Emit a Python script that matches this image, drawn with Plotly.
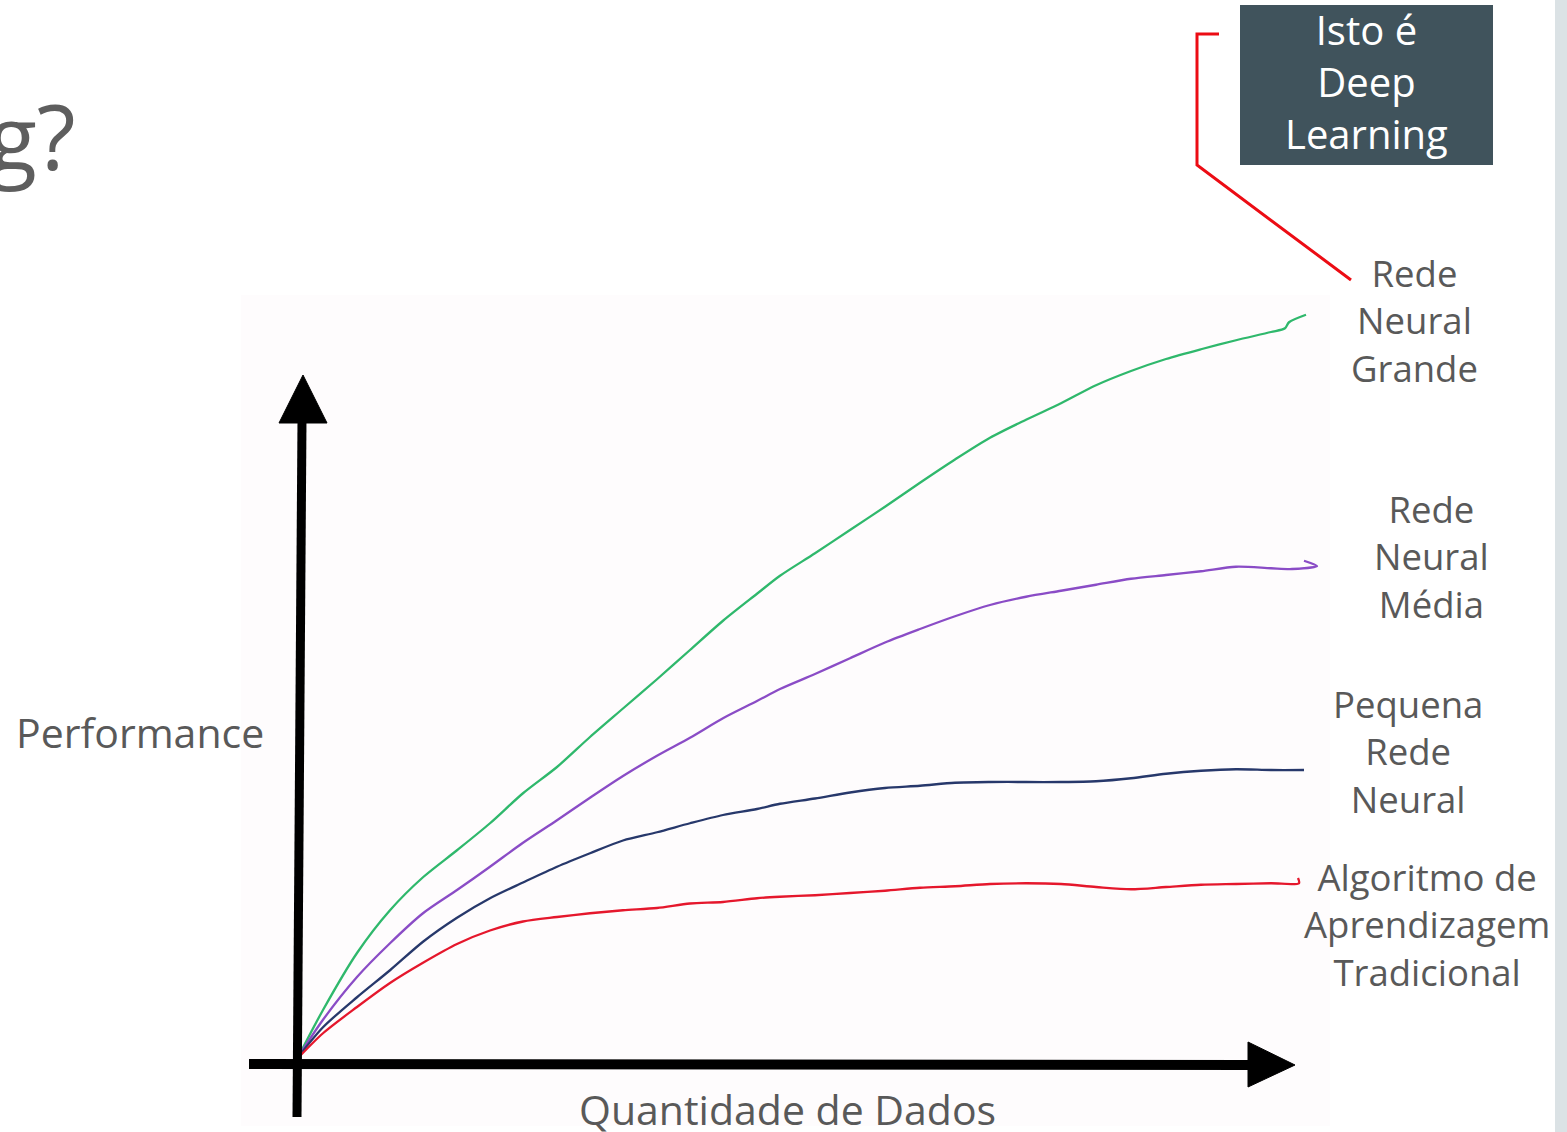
import plotly.graph_objects as go

W, H = 1567, 1132

# ---------------- data (Quantidade de Dados vs Performance) ----------------
x_grande = [0, 2.5, 5.9, 9.2, 12.5, 15.9, 19.2, 22.5, 25.9, 29.2, 32.5, 35.9, 39.2, 42.5, 45.9,
            48.2, 51.7, 55.2, 58.7, 62.2, 65.7, 69.2, 72.8, 76.3, 79.8, 83.3, 86.8, 90.3, 93.8,
            97.3, 98.7, 99.1, 100.8]
y_grande = [0.1, 6.4, 14.0, 19.7, 24.1, 27.7, 31.3, 35.3, 38.8, 42.8, 46.6, 50.5, 54.4, 58.3, 61.9,
            64.3, 67.3, 70.4, 73.5, 76.7, 79.8, 82.7, 85.1, 87.3, 89.7, 91.6, 93.2, 94.5, 95.7,
            96.8, 97.3, 98.1, 99.1]

x_media = [0, 2.5, 5.9, 9.2, 12.5, 15.9, 19.2, 22.5, 25.9, 29.2, 32.5, 35.9, 39.2, 42.5, 45.9,
           48.2, 51.7, 55.2, 58.7, 62.2, 65.7, 69.2, 72.8, 76.3, 79.8, 83.3, 86.8, 90.3, 93.8,
           97.3, 99.4, 101.9, 100.6]
y_media = [0.1, 5.1, 10.8, 15.3, 19.3, 22.4, 25.5, 28.7, 31.7, 34.7, 37.6, 40.3, 42.7, 45.3, 47.6,
           49.2, 51.2, 53.3, 55.4, 57.2, 58.9, 60.4, 61.5, 62.3, 63.1, 63.9, 64.4, 64.9, 65.5,
           65.3, 65.2, 65.6, 66.3]

x_pequena = [0, 2.5, 5.9, 9.2, 12.5, 15.9, 19.2, 22.5, 25.9, 29.2, 32.5, 35.9, 39.2, 42.5, 45.9,
             48.2, 51.7, 55.2, 58.7, 62.2, 65.7, 69.2, 72.8, 76.3, 79.8, 83.3, 86.8, 90.3, 93.8,
             97.3, 100.6]
y_pequena = [0.1, 4.1, 8.1, 11.7, 15.5, 18.7, 21.3, 23.4, 25.5, 27.3, 29.0, 30.1, 31.3, 32.4, 33.2,
             33.9, 34.6, 35.4, 36.0, 36.3, 36.7, 36.8, 36.8, 36.8, 36.9, 37.3, 37.9, 38.3, 38.5,
             38.4, 38.4]

x_tradicional = [0, 2.5, 5.9, 9.2, 12.5, 15.9, 19.2, 22.5, 25.9, 29.2, 32.5, 35.9, 39.2, 42.5, 45.9,
                 48.2, 51.7, 55.2, 58.7, 62.2, 65.7, 69.2, 72.8, 76.3, 79.8, 83.3, 86.8, 90.3, 93.8,
                 97.3, 100.1, 100.0]
y_tradicional = [0.0, 3.3, 6.8, 10.0, 12.7, 15.2, 17.0, 18.2, 18.8, 19.3, 19.7, 20.0, 20.6, 20.8, 21.3,
                 21.5, 21.7, 22.0, 22.3, 22.7, 22.9, 23.2, 23.3, 23.2, 22.8, 22.5, 22.8, 23.1, 23.2,
                 23.3, 23.3, 24.0]

series_names = ["Rede Neural Grande", "Rede Neural Média", "Pequena Rede Neural",
                "Algoritmo de Aprendizagem Tradicional"]
series_colors = ["#2fb86c", "#8a4cc6", "#27386b", "#e5172c"]

label_texts = ["Rede<br>Neural<br>Grande", "Rede<br>Neural<br>Média",
               "Pequena<br>Rede<br>Neural", "Algoritmo de<br>Aprendizagem<br>Tradicional"]
box_text = "Isto é<br>Deep<br>Learning"
x_title = "Quantidade de Dados"
y_title = "Performance"
slide_title = "g?"

# ---------------- helpers: pixel -> paper ----------------
def px(x):
    return x / W

def py(y):
    return 1 - y / H

# data axis placement (pixels): x=0 at 298, 10 px/unit ; y=0 at 1058, 7.5 px/unit
X0, XS = 298, 10.0
Y0, YS = 1058, 7.5
xr = [-2, 104]
yr = [-2, 104]
xdom = [px(X0 + xr[0] * XS), px(X0 + xr[1] * XS)]
ydom = [py(Y0 - yr[0] * YS), py(Y0 - yr[1] * YS)]

fig = go.Figure()
for xs, ys, name, col in zip([x_grande, x_media, x_pequena, x_tradicional],
                             [y_grande, y_media, y_pequena, y_tradicional],
                             series_names, series_colors):
    fig.add_trace(go.Scatter(x=xs, y=ys, mode="lines", name=name,
                             line=dict(color=col, width=2.3, shape="spline", smoothing=0.8),
                             showlegend=False, hoverinfo="skip"))

shapes = []
# chart image background
shapes.append(dict(type="rect", xref="paper", yref="paper", x0=px(241), x1=px(1330),
                   y0=py(1126), y1=py(295), fillcolor="#fefcfd", line=dict(width=0), layer="below"))
# right grey strip
shapes.append(dict(type="rect", xref="paper", yref="paper", x0=px(1555), x1=px(1567),
                   y0=py(1132), y1=py(0), fillcolor="#dbe2e5", line=dict(width=0), layer="below"))
# vertical axis arrow
shapes.append(dict(type="line", xref="paper", yref="paper", x0=px(297), y0=py(1117),
                   x1=px(302), y1=py(420), line=dict(color="black", width=9)))
shapes.append(dict(type="path", xref="paper", yref="paper",
                   path=f"M {px(279)} {py(423)} L {px(327)} {py(423)} L {px(303)} {py(375)} Z",
                   fillcolor="black", line=dict(color="black", width=1)))
# horizontal axis arrow
shapes.append(dict(type="line", xref="paper", yref="paper", x0=px(249), y0=py(1064),
                   x1=px(1250), y1=py(1065), line=dict(color="black", width=10)))
shapes.append(dict(type="path", xref="paper", yref="paper",
                   path=f"M {px(1248)} {py(1042)} L {px(1248)} {py(1087)} L {px(1295)} {py(1065)} Z",
                   fillcolor="black", line=dict(color="black", width=1)))
# dark box
shapes.append(dict(type="rect", xref="paper", yref="paper", x0=px(1240), x1=px(1493),
                   y0=py(165), y1=py(5), fillcolor="#40535c", line=dict(width=0)))
# red bracket
shapes.append(dict(type="path", xref="paper", yref="paper",
                   path=f"M {px(1219)} {py(34)} L {px(1197)} {py(34)} L {px(1197)} {py(165)} L {px(1351)} {py(280)}",
                   line=dict(color="#ec0c14", width=3)))

FONT = "Open Sans"
GREY = "#595959"
annotations = []
annotations.append(dict(text=slide_title, xref="paper", yref="paper", x=px(78), y=py(135),
                        xanchor="right", yanchor="middle", showarrow=False,
                        font=dict(family=FONT, size=90, color="#5e5e5e")))
annotations.append(dict(text=y_title, xref="paper", yref="paper", x=px(140), y=py(732),
                        xanchor="center", yanchor="middle", showarrow=False,
                        font=dict(family=FONT, size=41, color=GREY)))
annotations.append(dict(text=x_title, xref="paper", yref="paper", x=px(787), y=py(1109),
                        xanchor="center", yanchor="middle", showarrow=False,
                        font=dict(family=FONT, size=41, color=GREY)))
label_pos = [(1414, 320), (1431, 557), (1408, 751), (1427, 924)]
for t, (lx, ly) in zip(label_texts, label_pos):
    annotations.append(dict(text=t, xref="paper", yref="paper", x=px(lx), y=py(ly),
                            xanchor="center", yanchor="middle", showarrow=False, align="center",
                            font=dict(family=FONT, size=36.5, color=GREY)))
annotations.append(dict(text=box_text, xref="paper", yref="paper", x=px(1366), y=py(82),
                        xanchor="center", yanchor="middle", showarrow=False, align="center",
                        font=dict(family=FONT, size=40, color="white")))

fig.update_layout(
    width=W, height=H, autosize=False,
    margin=dict(l=0, r=0, t=0, b=0, pad=0),
    paper_bgcolor="white", plot_bgcolor="rgba(0,0,0,0)",
    xaxis=dict(domain=xdom, range=xr, visible=False, fixedrange=True),
    yaxis=dict(domain=ydom, range=yr, visible=False, fixedrange=True),
    shapes=shapes, annotations=annotations, showlegend=False,
)

fig.write_html("out.html", config={"displayModeBar": False})
